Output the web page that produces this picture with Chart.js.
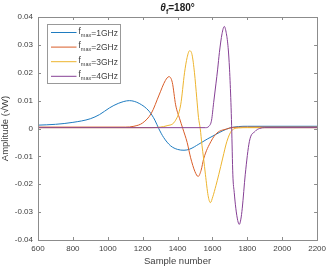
<!DOCTYPE html>
<html>
<head>
<meta charset="utf-8">
<script src="https://cdn.jsdelivr.net/npm/chart.js@4.4.1/dist/chart.umd.min.js"></script>
<style>
html,body{margin:0;padding:0;background:#fff;}
#wrap{width:330px;height:266px;position:relative;}
</style>
</head>
<body>
<div id="wrap"><canvas id="c" width="330" height="266"></canvas></div>
<script>
// ---- data ----
const xTicks = [600, 800, 1000, 1200, 1400, 1600, 1800, 2000, 2200];
const yTicks = [-0.04, -0.03, -0.02, -0.01, 0, 0.01, 0.02, 0.03, 0.04];
const yTickLabels = ['-0.04', '-0.03', '-0.02', '-0.01', '0', '0.01', '0.02', '0.03', '0.04'];
const seriesFreqs = ['1GHz', '2GHz', '3GHz', '4GHz'];
const seriesColors = ['#1f7cc0', '#d95d28', '#edb42e', '#864095'];

const s1x = [600, 700, 800, 900, 953, 1010, 1060, 1124, 1180, 1237, 1270, 1292, 1320, 1360, 1400, 1437, 1470, 1522, 1570, 1617, 1660, 1700, 1750, 1800, 2200];
const s1y = [0.0012, 0.0015, 0.0022, 0.0035, 0.0050, 0.0074, 0.0090, 0.0100, 0.0090, 0.0062, 0.0030, 0.0000, -0.0032, -0.0062, -0.0075, -0.0078, -0.0074, -0.0056, -0.0038, -0.0022, -0.0008, 0.0002, 0.0007, 0.0008, 0.0008];

const s2x = [600, 1100, 1150, 1200, 1250, 1294, 1330, 1351, 1370, 1389, 1412, 1430, 1455, 1475, 1500, 1518, 1535, 1550, 1592, 1626, 1680, 1720, 1800, 2200];
const s2y = [0.0005, 0.0005, 0.0008, 0.0020, 0.0055, 0.0120, 0.0172, 0.0186, 0.0165, 0.0085, 0.0035, 0.0000, -0.0050, -0.0105, -0.0155, -0.0172, -0.0150, -0.0108, -0.0046, -0.0016, -0.0002, 0.0004, 0.0005, 0.0005];

const s3x = [600, 1250, 1300, 1340, 1384, 1418, 1440, 1455, 1469, 1483, 1497, 1510, 1520, 1530, 1540, 1549, 1560, 1575, 1588, 1602, 1620, 1636, 1659, 1683, 1710, 1750, 1800, 2200];
const s3y = [0.0003, 0.0003, 0.0005, 0.0010, 0.0025, 0.0085, 0.0200, 0.0255, 0.0279, 0.0265, 0.0200, 0.0110, 0.0040, 0.0000, -0.0060, -0.0106, -0.0166, -0.0240, -0.0266, -0.0245, -0.0205, -0.0166, -0.0106, -0.0046, -0.0008, 0.0002, 0.0003, 0.0003];

const s4x = [600, 1560, 1580, 1595, 1607, 1620, 1630, 1640, 1655, 1668, 1680, 1690, 1698, 1706, 1710, 1717, 1725, 1734, 1745, 1754, 1763, 1771, 1788, 1812, 1845, 1870, 1900, 2200];
const s4y = [0.0003, 0.0003, 0.0008, 0.0030, 0.0093, 0.0160, 0.0213, 0.0273, 0.0340, 0.0366, 0.0340, 0.0290, 0.0213, 0.0093, 0.0010, -0.0166, -0.0230, -0.0286, -0.0330, -0.0344, -0.0325, -0.0286, -0.0166, -0.0046, -0.0010, 0.0000, 0.0003, 0.0003];

const allX = [s1x, s2x, s3x, s4x];
const allY = [s1y, s2y, s3y, s4y];

const FONT = '"Liberation Sans", Arial, Helvetica, sans-serif';
const AXIS_GREY = '#8c8c8c';
const TEXT_GREY = '#404040';

const datasets = allX.map((xs, i) => ({
  label: 'f_max=' + seriesFreqs[i],
  data: xs.map((x, k) => ({x: x, y: allY[i][k]})),
  borderColor: seriesColors[i],
  backgroundColor: seriesColors[i],
  borderWidth: 1,
  pointRadius: 0,
  fill: false,
  cubicInterpolationMode: 'monotone',
  order: allX.length - i
}));

const framePlugin = {
  id: 'frame',
  afterDatasetsDraw(chart) {
    const {ctx, chartArea: a, scales} = chart;
    ctx.save();
    ctx.strokeStyle = AXIS_GREY;
    ctx.lineWidth = 1;
    ctx.strokeRect(Math.round(a.left) + 0.5, Math.round(a.top) + 0.5, Math.round(a.right - a.left), Math.round(a.bottom - a.top));
    const tl = 3;
    ctx.beginPath();
    xTicks.forEach(v => {
      const px = Math.round(scales.x.getPixelForValue(v)) + 0.5;
      ctx.moveTo(px, a.bottom); ctx.lineTo(px, a.bottom - tl);
      ctx.moveTo(px, a.top); ctx.lineTo(px, a.top + tl);
    });
    yTicks.forEach(v => {
      const py = Math.round(scales.y.getPixelForValue(v)) + 0.5;
      ctx.moveTo(a.left, py); ctx.lineTo(a.left + tl, py);
      ctx.moveTo(a.right, py); ctx.lineTo(a.right - tl, py);
    });
    ctx.stroke();

    // legend
    const bx = Math.round(a.left) + 9.5, by = Math.round(a.top) + 7.5, bw = 73, bh = 59;
    ctx.fillStyle = '#fff';
    ctx.fillRect(bx, by, bw, bh);
    ctx.strokeStyle = '#999';
    ctx.strokeRect(bx, by, bw, bh);
    chart.data.datasets.forEach((ds, i) => {
      const y = by + 8 + i * 14.6;
      ctx.strokeStyle = ds.borderColor;
      ctx.lineWidth = 1;
      ctx.beginPath();
      ctx.moveTo(bx + 3.5, y); ctx.lineTo(bx + 29, y);
      ctx.stroke();
      ctx.fillStyle = TEXT_GREY;
      ctx.textBaseline = 'alphabetic';
      ctx.textAlign = 'left';
      let tx = bx + 31;
      ctx.font = '8.5px ' + FONT;
      ctx.fillText('f', tx, y + 1);
      tx += ctx.measureText('f').width;
      ctx.font = '5.5px ' + FONT;
      ctx.fillText('max', tx, y + 4);
      tx += ctx.measureText('max').width;
      ctx.font = '8.5px ' + FONT;
      ctx.fillText('=' + seriesFreqs[i], tx, y + 3);
    });

    // title
    const cx = (a.left + a.right) / 2;
    const ty = 11;
    const p1 = 'θ', p2 = 'f', p3 = '=180°';
    ctx.fillStyle = '#222';
    ctx.font = 'italic bold 10px ' + FONT;
    const w1 = ctx.measureText(p1).width;
    ctx.font = 'bold 7px ' + FONT;
    const w2 = ctx.measureText(p2).width;
    ctx.font = 'bold 10px ' + FONT;
    const w3 = ctx.measureText(p3).width;
    let sx = cx - (w1 + w2 + w3) / 2;
    ctx.font = 'italic bold 10px ' + FONT;
    ctx.fillText(p1, sx, ty);
    sx += w1;
    ctx.font = 'bold 7px ' + FONT;
    ctx.fillText(p2, sx, ty + 2.5);
    sx += w2;
    ctx.font = 'bold 10px ' + FONT;
    ctx.fillText(p3, sx, ty);
    ctx.restore();
  }
};

new Chart(document.getElementById('c'), {
  type: 'line',
  data: {datasets: datasets},
  options: {
    responsive: false,
    animation: false,
    devicePixelRatio: 1,
    layout: {padding: {top: 17, right: 11, bottom: 0, left: 0}},
    plugins: {legend: {display: false}, tooltip: {enabled: false}, title: {display: false}},
    scales: {
      x: {
        type: 'linear',
        min: 600, max: 2200,
        afterFit(s) { s.height = 26; },
        afterBuildTicks(s) { s.ticks = xTicks.map(v => ({value: v})); },
        grid: {display: false, drawTicks: false},
        border: {display: false},
        ticks: {color: TEXT_GREY, font: {family: FONT, size: 8}, padding: 4, maxRotation: 0, autoSkip: false,
                callback: (v) => String(v)},
        title: {display: true, text: 'Sample number', color: TEXT_GREY, font: {family: FONT, size: 9.5}, padding: {top: 0, bottom: -1}}
      },
      y: {
        type: 'linear',
        min: -0.04, max: 0.04,
        afterFit(s) { s.width = 38; },
        afterBuildTicks(s) { s.ticks = yTicks.map(v => ({value: v})); },
        grid: {display: false, drawTicks: false},
        border: {display: false},
        ticks: {color: TEXT_GREY, font: {family: FONT, size: 8}, padding: 5, autoSkip: false,
                callback: (v) => { const k = yTicks.findIndex(t => Math.abs(t - v) < 1e-9); return k >= 0 ? yTickLabels[k] : ''; }},
        title: {display: true, text: 'Amplitude (√W)', color: TEXT_GREY, font: {family: FONT, size: 9.5}, padding: {top: 0, bottom: 0}}
      }
    }
  },
  plugins: [framePlugin]
});
</script>
</body>
</html>
